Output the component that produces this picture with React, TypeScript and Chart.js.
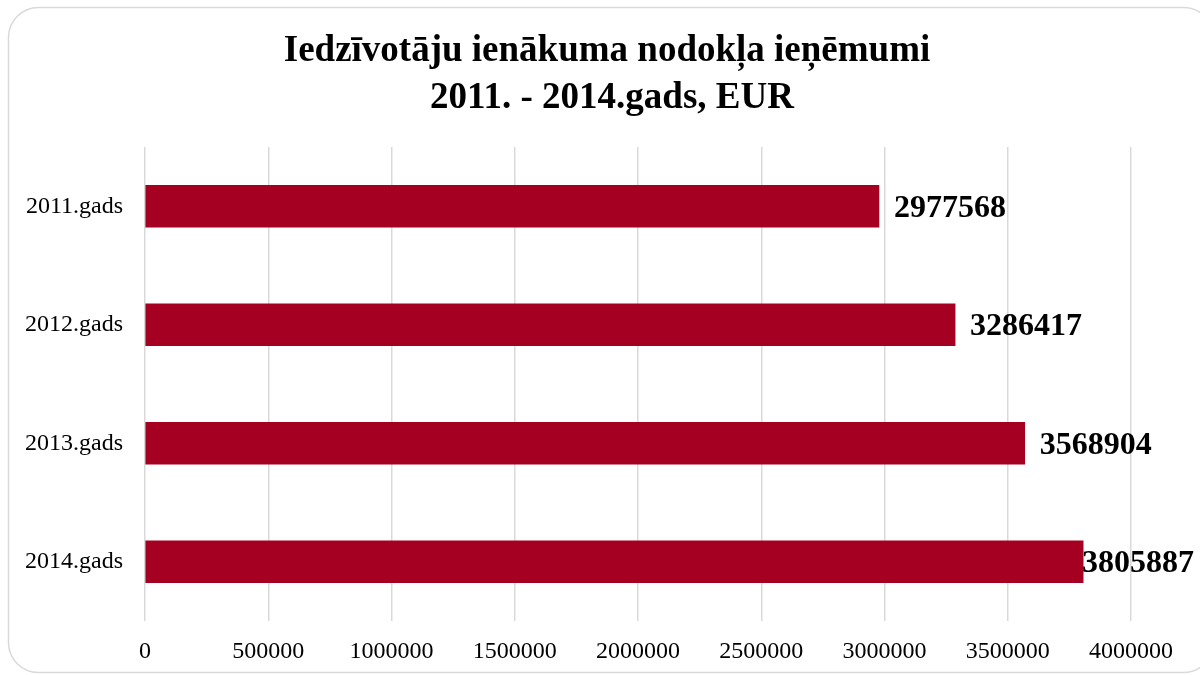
import React, { useEffect, useRef } from "react";
import { Chart, registerables } from "chart.js";

Chart.register(...registerables);

const categories = ["2011.gads", "2012.gads", "2013.gads", "2014.gads"];
const values = [2977568, 3286417, 3568904, 3805887];
const titleLines = ["Iedzīvotāju ienākuma nodokļa ieņēmumi", "2011. - 2014.gads, EUR"];
const xMin = 0;
const xMax = 4000000;
const xStep = 500000;

const SERIF = "'Liberation Serif', 'Times New Roman', serif";

const framePlugin = {
  id: "frame",
  beforeDraw(chart: any) {
    const ctx = chart.ctx;
    ctx.save();
    ctx.fillStyle = "#ffffff";
    ctx.fillRect(0, 0, chart.width, chart.height);
    ctx.strokeStyle = "#d9d9d9";
    ctx.lineWidth = 1.5;
    ctx.beginPath();
    (ctx as any).roundRect(8.5, 7.5, 1205, 665, 30);
    ctx.stroke();
    ctx.restore();
  },
};

const titlePlugin = {
  id: "titleText",
  afterDraw(chart: any) {
    const ctx = chart.ctx;
    ctx.save();
    ctx.fillStyle = "#000000";
    ctx.font = `bold 37px ${SERIF}`;
    ctx.textAlign = "center";
    ctx.textBaseline = "middle";
    ctx.fillText(titleLines[0], 607, 51);
    ctx.fillText(titleLines[1], 612, 98);
    ctx.restore();
  },
};

const labelPlugin = {
  id: "barLabels",
  afterDatasetsDraw(chart: any) {
    const ctx = chart.ctx;
    const meta = chart.getDatasetMeta(0);
    ctx.save();
    ctx.fillStyle = "#000000";
    ctx.font = `bold 32px ${SERIF}`;
    ctx.textAlign = "left";
    ctx.textBaseline = "middle";
    meta.data.forEach((bar: any, i: number) => {
      const text = String(values[i]);
      const w = ctx.measureText(text).width;
      let x = bar.x + 15;
      if (x + w > chart.width - 6) x = chart.width - 6 - w;
      ctx.fillText(text, x, bar.y + 2);
    });
    ctx.restore();
  },
};

export default function App() {
  const ref = useRef<HTMLCanvasElement>(null);
  useEffect(() => {
    document.body.style.margin = "0";
    const chart = new Chart(ref.current!, {
      type: "bar",
      data: {
        labels: categories,
        datasets: [
          {
            data: values,
            backgroundColor: "#A50021",
            borderWidth: 0,
            barThickness: 42,
          },
        ],
      },
      options: {
        indexAxis: "y",
        animation: false,
        responsive: false,
        maintainAspectRatio: false,
        layout: { padding: { top: 147, right: 69, bottom: 0, left: 0 } },
        plugins: {
          legend: { display: false },
          title: { display: false },
          tooltip: { enabled: false },
        },
        scales: {
          x: {
            min: xMin,
            max: xMax,
            ticks: {
              stepSize: xStep,
              color: "#000000",
              font: { family: SERIF, size: 24 },
              padding: 16,
              maxRotation: 0,
              callback: (v: any) => String(v),
            },
            grid: { color: "#d9d9d9", lineWidth: 1.5, drawTicks: false },
            border: { display: false },
            afterFit(scale: any) {
              scale.height = 54;
            },
          },
          y: {
            ticks: {
              color: "#000000",
              font: { family: SERIF, size: 24 },
              padding: 22,
            },
            grid: { display: false, drawTicks: false },
            border: { display: false },
            afterFit(scale: any) {
              scale.width = 145;
            },
          },
        },
      },
      plugins: [framePlugin, titlePlugin, labelPlugin],
    });
    return () => chart.destroy();
  }, []);
  return <canvas ref={ref} width={1200} height={675} style={{ display: "block" }} />;
}
